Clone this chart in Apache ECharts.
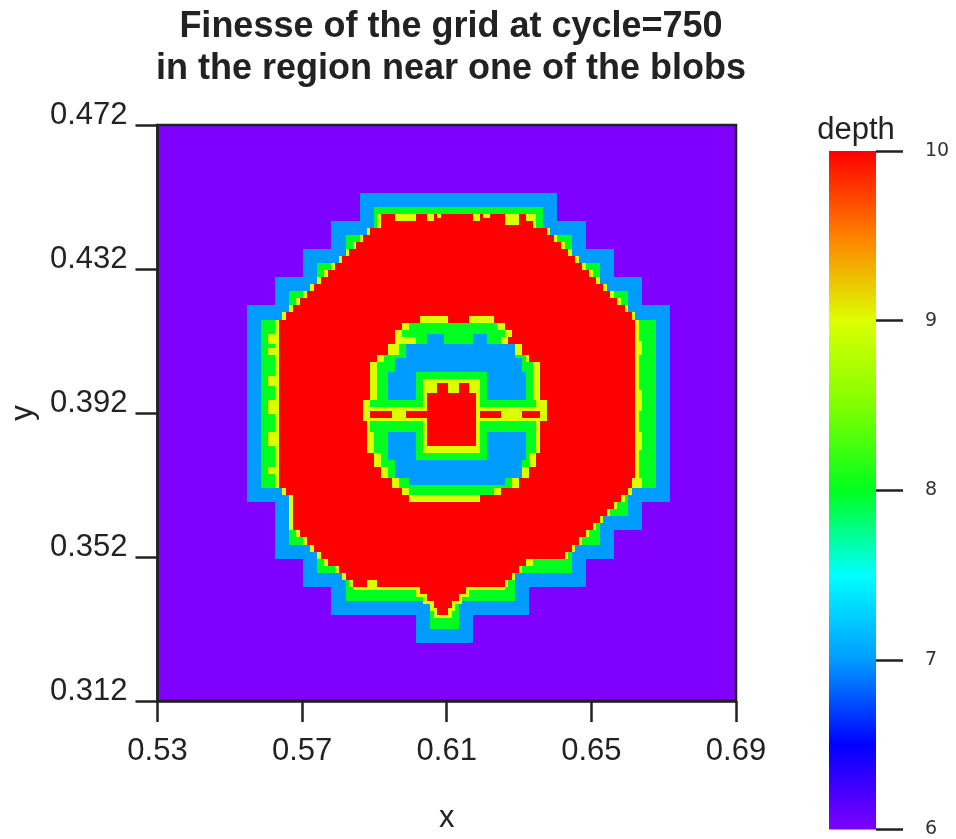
<!DOCTYPE html>
<html>
<head>
<meta charset="utf-8">
<script src="https://cdn.jsdelivr.net/npm/echarts@6/dist/echarts.min.js"></script>
<style>
  html, body { margin: 0; padding: 0; background: #ffffff; }
  #chart { width: 956px; height: 839px; }
</style>
</head>
<body>
<div id="chart"></div>
<script>
// ---- axes ----
const X_RANGE = [0.53, 0.69];
const Y_RANGE = [0.312, 0.472];
const xTickValues = [0.53, 0.57, 0.61, 0.65, 0.69];
const yTickValues = [0.312, 0.352, 0.392, 0.432, 0.472];
const depthTickValues = [6, 7, 8, 9, 10];
const titleLines = ['Finesse of the grid at cycle=750', 'in the region near one of the blobs'];

// ---- colour scale ----
const depthColors = { 6: '#7f00ff', 7: '#009cff', 8: '#00ff1e', 9: '#dcff00', 10: '#ff0000' };
const colorbarStops = [
  [6, '#7f00ff'], [6.5, '#0000ff'], [7, '#009cff'], [7.5, '#00ffff'],
  [8, '#00ff1e'], [8.5, '#80ff00'], [9, '#dcff00'], [9.5, '#ff8000'], [10, '#ff0000']
];

// ---- grid cells ----
// Cell index unit: 1/1024 (finest level). Each run: [row0, row1, col0, col1] (end exclusive).
const CELL = 1 / 1024;

const baseDepth6 = [[319, 484, 542, 707]];

const outerDepth7 = [
  [456, 464, 600, 656], [448, 456, 592, 664], [440, 448, 584, 672], [432, 440, 576, 680],
  [376, 432, 568, 688], [368, 376, 576, 680], [360, 368, 576, 672], [352, 360, 584, 664],
  [344, 352, 592, 648], [336, 344, 616, 632]
];

const outerDepth8 = [
  [452, 460, 604, 652], [444, 452, 596, 660], [436, 444, 588, 668], [428, 436, 580, 676],
  [380, 428, 572, 684], [372, 380, 580, 676], [364, 372, 580, 668], [356, 364, 588, 660],
  [348, 356, 596, 644], [340, 348, 620, 628]
];

const outerDepth9 = [
  [456, 458, 605, 650], [454, 456, 605, 650], [452, 454, 602, 654], [450, 452, 600, 656],
  [448, 450, 598, 658], [446, 448, 596, 660], [444, 446, 594, 662], [442, 444, 592, 664],
  [440, 442, 590, 666], [438, 440, 588, 668], [436, 438, 586, 670], [434, 436, 584, 672],
  [432, 434, 582, 674], [430, 432, 580, 676], [428, 430, 578, 678], [380, 428, 576, 679],
  [378, 380, 578, 677], [376, 378, 580, 675], [374, 376, 580, 673], [372, 374, 580, 671],
  [370, 372, 580, 669], [368, 370, 580, 667], [366, 368, 582, 665], [364, 366, 584, 663],
  [362, 364, 586, 661], [360, 362, 588, 659], [358, 360, 590, 649], [356, 358, 593, 646],
  [354, 356, 595, 644], [352, 354, 597, 642], [351, 352, 598, 641],
  [349, 351, 616, 631], [347, 349, 618, 629], [345, 347, 620, 627], [343, 345, 621, 626]
];

const outerDepth10 = [
  [456, 458, 606, 647], [454, 456, 606, 649], [452, 454, 603, 653], [450, 452, 601, 655],
  [448, 450, 599, 657], [446, 448, 597, 659], [444, 446, 595, 661], [442, 444, 593, 663],
  [440, 442, 591, 665], [438, 440, 589, 667], [436, 438, 587, 669], [434, 436, 585, 671],
  [432, 434, 583, 673], [430, 432, 581, 675], [428, 430, 579, 677], [380, 428, 577, 678],
  [378, 380, 579, 676], [376, 378, 581, 674], [374, 376, 581, 672], [372, 374, 581, 670],
  [370, 372, 581, 668], [368, 370, 581, 666], [366, 368, 583, 664], [364, 366, 585, 662],
  [362, 364, 587, 660], [360, 362, 589, 658], [358, 360, 591, 647], [356, 358, 594, 645],
  [354, 356, 596, 643], [352, 354, 598, 641],
  [350, 352, 617, 630], [348, 350, 619, 628], [346, 348, 621, 626], [344, 346, 622, 625]
];

// coarser patches along the rim of the fine zone
const edgeDepth9 = [
  [456, 458, 610, 616], [456, 458, 619, 621], [457, 458, 622, 623], [456, 458, 632, 634],
  [457, 458, 635, 637], [455, 458, 641, 645],
  [421, 424, 574, 577], [418, 420, 574, 577], [409, 412, 574, 577], [401, 405, 574, 577],
  [392, 396, 574, 577], [384, 386, 574, 577],
  [418, 422, 678, 680], [402, 408, 678, 680], [391, 396, 678, 680], [380, 383, 677, 680],
  [352, 354, 602, 605]
];

// ring inside the blob
const ringDepth9 = [
  [427, 429, 617, 625], [427, 429, 631, 638], [425, 427, 612, 641], [423, 425, 610, 643],
  [421, 423, 610, 642], [418, 421, 608, 646], [416, 418, 605, 648], [405, 416, 603, 651],
  [399, 405, 601, 653], [390, 399, 602, 651], [386, 390, 604, 650], [383, 386, 606, 648],
  [380, 383, 609, 645], [378, 380, 612, 640], [376, 378, 614, 634]
];

const ringDepth8 = [
  [425, 427, 614, 639], [423, 425, 612, 641], [421, 423, 616, 640], [418, 421, 611, 644],
  [416, 418, 607, 647], [405, 416, 605, 649], [390, 405, 604, 650], [386, 390, 606, 648],
  [383, 386, 608, 646], [380, 383, 611, 643], [378, 380, 614, 638]
];

const ringDepth7 = [
  [421, 424, 619, 624], [421, 424, 632, 636], [417, 421, 613, 644], [413, 417, 610, 646],
  [405, 413, 608, 647], [388, 396, 608, 647], [383, 388, 610, 646], [381, 383, 614, 641]
];

const coreDepth8 = [[388, 413, 616, 636], [396, 405, 603, 616], [396, 405, 636, 650]];
const coreDepth9 = [[390, 411, 618, 634], [399, 403, 602, 619], [399, 403, 633, 652]];
const coreDepth10 = [
  [392, 407, 619, 633], [407, 410, 622, 625], [407, 410, 628, 631],
  [400, 402, 603, 609], [400, 402, 613, 619], [400, 402, 634, 640], [400, 402, 646, 651]
];

// drawing order: coarse first, finer zones painted over them
const layers = [
  [6, baseDepth6], [7, outerDepth7], [8, outerDepth8], [9, outerDepth9], [10, outerDepth10],
  [9, edgeDepth9], [9, ringDepth9], [8, ringDepth8], [7, ringDepth7],
  [8, coreDepth8], [9, coreDepth9], [10, coreDepth10]
];

const cellData = [];
layers.forEach(([depth, runs]) => {
  runs.forEach(([r0, r1, c0, c1]) => {
    cellData.push([c0 * CELL, c1 * CELL, r0 * CELL, r1 * CELL, depth]);
  });
});

function renderCell(params, api) {
  const a = api.coord([api.value(0), api.value(3)]);
  const b = api.coord([api.value(1), api.value(2)]);
  const box = params.coordSys;
  const x0 = Math.max(Math.round(a[0]), box.x);
  const x1 = Math.min(Math.round(b[0]), box.x + box.width);
  const y0 = Math.max(Math.round(a[1]), box.y);
  const y1 = Math.min(Math.round(b[1]), box.y + box.height);
  if (x1 <= x0 || y1 <= y0) return null;
  return {
    type: 'rect',
    shape: { x: x0, y: y0, width: x1 - x0, height: y1 - y0 },
    style: { fill: depthColors[api.value(4)] }
  };
}

function renderColorbar(params, api) {
  const lo = depthTickValues[0], hi = depthTickValues[depthTickValues.length - 1];
  const a = api.coord([0, hi]);
  const b = api.coord([1, lo]);
  const stops = colorbarStops
    .map(([v, c]) => ({ offset: (hi - v) / (hi - lo), color: c }))
    .sort((p, q) => p.offset - q.offset);
  return {
    type: 'rect',
    shape: { x: a[0], y: a[1], width: b[0] - a[0], height: b[1] - a[1] },
    style: { fill: new echarts.graphic.LinearGradient(0, 0, 0, 1, stops) }
  };
}

const FONT = 'Liberation Sans, Arial, Helvetica, sans-serif';
const INK = '#222222';

const chart = echarts.init(document.getElementById('chart'), null, { renderer: 'canvas' });
chart.setOption({
  animation: false,
  backgroundColor: '#ffffff',
  title: [
    {
      text: titleLines.join('\n'), left: 446, top: 1, textAlign: 'center',
      textStyle: { fontFamily: FONT, fontSize: 36, fontWeight: 'bold', color: INK, lineHeight: 42 }
    },
    {
      text: 'depth', left: 851, top: 110, textAlign: 'center',
      textStyle: { fontFamily: FONT, fontSize: 31, fontWeight: 'normal', color: INK }
    }
  ],
  grid: [
    { left: 157, top: 125, width: 579, height: 577, show: true, z: 5,
      borderColor: INK, borderWidth: 2.5, backgroundColor: 'transparent' },
    { left: 829, top: 151, width: 47, height: 679 }
  ],
  xAxis: [
    {
      type: 'value', gridIndex: 0, min: X_RANGE[0], max: X_RANGE[1], z: 6,
      name: 'x', nameLocation: 'middle', nameGap: 102,
      nameTextStyle: { fontFamily: FONT, fontSize: 31, color: INK },
      axisLine: { show: true, onZero: false, lineStyle: { color: INK, width: 2.5 } },
      axisTick: { show: true, length: 21, customValues: xTickValues, lineStyle: { color: INK, width: 2.5 } },
      axisLabel: { customValues: xTickValues, margin: 35, fontFamily: FONT, fontSize: 31, color: INK,
        formatter: v => v.toFixed(2) },
      splitLine: { show: false }
    },
    { type: 'value', gridIndex: 1, min: 0, max: 1, show: false }
  ],
  yAxis: [
    {
      type: 'value', gridIndex: 0, min: Y_RANGE[0], max: Y_RANGE[1], z: 6,
      name: 'y', nameLocation: 'middle', nameGap: 118, nameRotate: 90,
      nameTextStyle: { fontFamily: FONT, fontSize: 31, color: INK },
      axisLine: { show: true, onZero: false, lineStyle: { color: INK, width: 2.5 } },
      axisTick: { show: true, length: 22, customValues: yTickValues, lineStyle: { color: INK, width: 2.5 } },
      axisLabel: { customValues: yTickValues, margin: 30, fontFamily: FONT, fontSize: 31, color: INK,
        verticalAlign: 'bottom', lineHeight: 20, formatter: v => v.toFixed(3) },
      splitLine: { show: false }
    },
    {
      type: 'value', gridIndex: 1, min: 6, max: 10, position: 'right', z: 10,
      axisLine: { show: false, onZero: false },
      axisTick: { show: true, inside: false, length: 27, customValues: depthTickValues,
        lineStyle: { color: INK, width: 2.5 } },
      axisLabel: { customValues: depthTickValues, margin: 49, fontFamily: 'DejaVu Sans, sans-serif',
        fontSize: 19, color: '#333333' },
      splitLine: { show: false }
    }
  ],
  series: [
    {
      type: 'custom', name: 'depth', xAxisIndex: 0, yAxisIndex: 0, z: 1, silent: true,
      renderItem: renderCell, encode: { x: [0, 1], y: [2, 3] }, data: cellData
    },
    {
      type: 'custom', name: 'colorbar', xAxisIndex: 1, yAxisIndex: 1, z: 1, silent: true,
      renderItem: renderColorbar, encode: { x: [0, 1], y: [2, 3] }, data: [[0, 1, 6, 10]]
    }
  ]
});
</script>
</body>
</html>
